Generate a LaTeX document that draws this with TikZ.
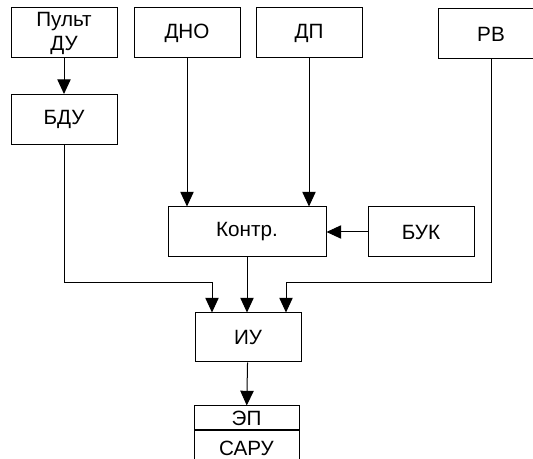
\documentclass[tikz,border=0pt]{standalone}
\usepackage{fontspec}
\setmainfont{Liberation Sans}
\usetikzlibrary{arrows.meta}

\tikzset{
  blk/.style={draw, line width=0.75pt, minimum width=79.5pt, minimum height=37.5pt,
    inner sep=0pt, align=center, font=\fontsize{15.5}{18}\selectfont},
  arr/.style={line width=0.75pt, -{Triangle[length=11pt, width=10pt]}}
}

\begin{document}
\begin{tikzpicture}[x=0.75pt, y=-0.75pt]
          \useasboundingbox (0,0) rectangle (533,459);
          % top row
          \node [blk] (pult) at (64,33) {Пульт\\ДУ};
          \node [blk] (dno) at (187,33) {ДНО};
          \node [blk] (dp) at (309,33) {ДП};
          \node [blk] (rv) at (491,34) {РВ};
          \node [blk] (bdu) at (64,119.5) {БДУ};
          % middle
          \node [blk, minimum width=118.5pt] (kontr) at (247,232) {Контр.};
          \node [blk] (buk) at (421,232) {БУК};
          \node [blk, minimum height=36.75pt] (iu) at (248,337.5) {ИУ};
          % bottom
          \node [blk, minimum width=78.75pt, minimum height=18pt] (ep) at (246.5,418) {ЭП};
          \node [blk, minimum width=78.75pt, minimum height=25.5pt, anchor=north] (saru) at (ep.south) {САРУ};
          \coordinate (jl) at (212,283);
          \coordinate (jr) at (286,283);
          \draw [arr] (pult) -- (bdu);
          \draw [arr] (dno) -- (dno |- kontr.north);
          \draw [arr] (dp) -- (dp |- kontr.north);
          \draw [arr] (buk) -- (kontr);
          \draw [arr] (kontr.south) -- (kontr.south |- iu.north);
          \draw [arr] (bdu) |- (jl) -- (jl |- iu.north);
          \draw [arr] (rv) |- (jr) -- (jr |- iu.north);
          \draw [arr] (iu) -- (ep);
      \end{tikzpicture}
\end{document}
